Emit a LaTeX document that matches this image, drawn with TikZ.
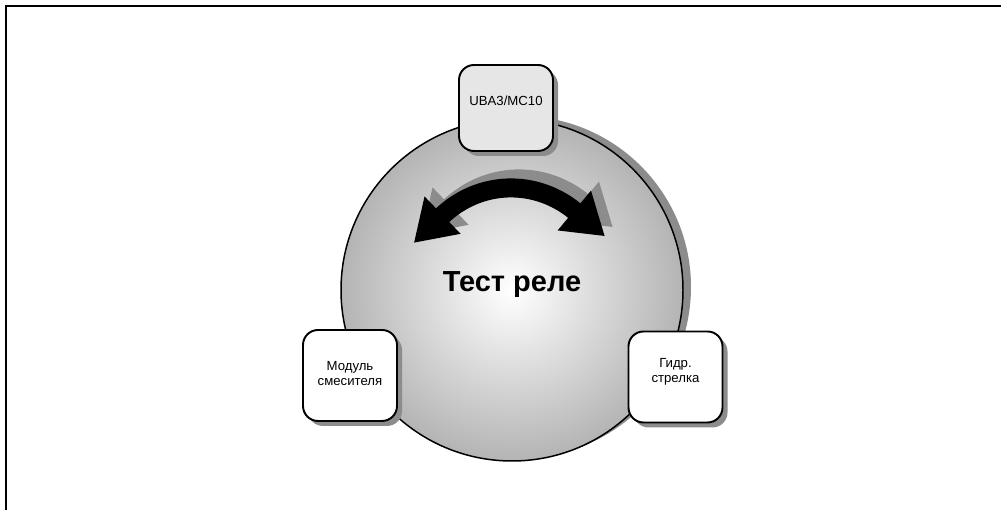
\documentclass[tikz,border=0pt]{standalone}
\usepackage{fontspec}
\setmainfont{Liberation Sans}
\usepackage{xcolor}
\usepackage{tikz}
\usetikzlibrary{arrows.meta,shadows}
\definecolor{shadowgray}{RGB}{140,140,140}
\definecolor{circgray}{RGB}{180,180,180}
\definecolor{boxgray}{RGB}{230,230,230}

\begin{document}
\begin{tikzpicture}[
    roundbox/.style={
        draw,
        fill=white,
        line width=1.1pt,
        rounded corners=0.3cm,
        minimum width=1.88cm,
        minimum height=1.82cm,
        align=center,
        font=\fontsize{7.5}{8.6}\selectfont,
        drop shadow={shadow xshift=0.1cm, shadow yshift=-0.1cm, fill=shadowgray, opacity=1}
    },
    swingarrow/.style={
        line width=0.38cm,
        shorten <=-0.8cm,
        shorten >=-0.8cm,
        {Triangle[width=0.98cm,length=0.8cm]}-{Triangle[width=0.98cm,length=0.8cm]}
    }
]

\useasboundingbox (0,0) rectangle (20.02,10.2);
\draw[line width=0.6pt] (0.12,0) |- (20.02,10.08);

\node[
    circle,
    draw,
    line width=0.85pt,
    minimum size=6.84cm,
    inner sep=0pt,
    shading=radial,
    inner color=white,
    outer color=circgray,
    drop shadow={shadow xshift=0.16cm, shadow yshift=0.06cm, fill=shadowgray, opacity=1}
] (relay) at (10.24,4.4) {};

\draw[swingarrow, shadowgray] ([shift={(134:1.97)}, xshift=0.14cm, yshift=0.26cm]relay.center)
    arc[start angle=134, end angle=50, radius=1.97];
\draw[swingarrow, black] ([shift={(134:1.97)}, xshift=-0.02cm, yshift=0.08cm]relay.center)
    arc[start angle=134, end angle=50, radius=1.97];

\node[anchor=base, font=\fontsize{16.5}{19}\selectfont\bfseries] (title) at (10.24,4.36) {Тест реле};

\node[roundbox, fill=boxgray, minimum height=1.72cm, text depth=0.3cm] (boiler) at (10.12,8.04) {UBA3/MC10};
\node[roundbox, text depth=0.08cm] (mixer) at (7.00,2.69) {Модуль\\смесителя};
\node[roundbox, text depth=0.26cm] (switch) at (13.51,2.66) {Гидр.\\стрелка};

\end{tikzpicture}
\end{document}
